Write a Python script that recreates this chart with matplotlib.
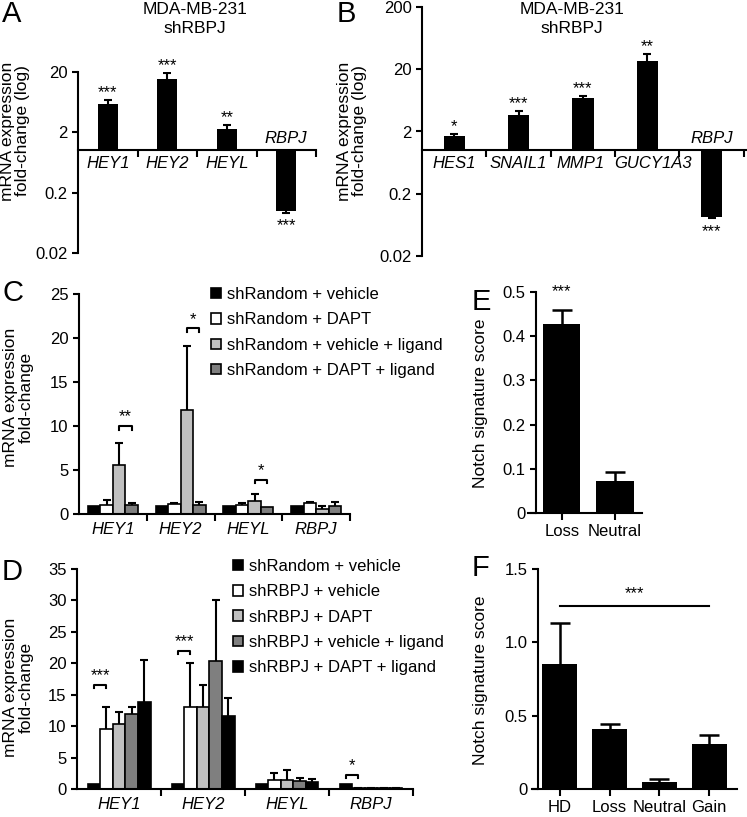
import numpy as np
import matplotlib
matplotlib.use('Agg')
import matplotlib.pyplot as plt
from matplotlib.patches import Patch

plt.rcParams['font.family'] = ['Liberation Sans', 'DejaVu Sans']
plt.rcParams['font.size'] = 12
plt.rcParams['axes.linewidth'] = 1.5
plt.rcParams['xtick.major.width'] = 1.5
plt.rcParams['ytick.major.width'] = 1.5
plt.rcParams['xtick.major.size'] = 4
plt.rcParams['ytick.major.size'] = 4

W, H = 747, 817

# ---- data ----
# A: MDA-MB-231 shRBPJ, log fold-change
a_genes = ['HEY1', 'HEY2', 'HEYL', 'RBPJ']
a_fold = [6.0, 15.5, 2.3, 0.098]
a_err = [0.8, 4.0, 0.3, 0.006]
a_stars = ['***', '***', '**', '***']

# B
b_genes = ['HES1', 'SNAIL1', 'MMP1', 'GUCY1A3', 'RBPJ']
b_fold = [1.68, 3.7, 7.0, 27.0, 0.086]
b_err = [0.15, 0.6, 0.5, 8.0, 0.005]
b_stars = ['*', '***', '***', '**', '***']

# C
c_genes = ['HEY1', 'HEY2', 'HEYL', 'RBPJ']
c_groups = ['shRandom + vehicle', 'shRandom + DAPT',
            'shRandom + vehicle + ligand', 'shRandom + DAPT + ligand']
c_colors = ['black', 'white', '#c0c0c0', '#7f7f7f']
c_vals = [[0.87, 0.87, 0.87, 0.87],
          [1.06, 1.10, 1.06, 1.25],
          [5.6, 11.8, 1.5, 0.57],
          [1.06, 1.0, 0.76, 0.95]]
c_err = [[0, 0, 0, 0],
         [0.55, 0.1, 0.15, 0.1],
         [2.5, 7.3, 0.8, 0.3],
         [0.15, 0.4, 0, 0.45]]
c_brackets = [(0, 2, 3, 10.0, '**'), (1, 2, 3, 21.1, '*'), (2, 2, 3, 3.9, '*')]

# D
d_genes = ['HEY1', 'HEY2', 'HEYL', 'RBPJ']
d_groups = ['shRandom + vehicle', 'shRBPJ + vehicle', 'shRBPJ + DAPT',
            'shRBPJ + vehicle + ligand', 'shRBPJ + DAPT + ligand']
d_colors = ['black', 'white', '#c0c0c0', '#7f7f7f', 'black']
d_vals = [[0.8, 0.8, 0.8, 0.8],
          [9.5, 13.1, 1.5, 0.15],
          [10.4, 13.1, 1.5, 0.15],
          [11.9, 20.3, 1.25, 0.08],
          [13.8, 11.6, 1.05, 0.15]]
d_err = [[0, 0, 0, 0],
         [3.6, 7.0, 1.0, 0.05],
         [1.9, 3.4, 1.6, 0.05],
         [1.1, 9.7, 0.5, 0.05],
         [6.8, 2.8, 0.5, 0.05]]
d_brackets = [(0, 0, 1, 16.6, '***'), (1, 0, 1, 22.0, '***'), (3, 0, 1, 2.3, '*')]

# E
e_cats = ['Loss', 'Neutral']
e_vals = [0.427, 0.072]
e_err = [0.033, 0.02]

# F
f_cats = ['HD', 'Loss', 'Neutral', 'Gain']
f_vals = [0.85, 0.41, 0.045, 0.31]
f_err = [0.28, 0.035, 0.02, 0.055]
f_line_y = 1.25


def rect(l, t, r, b):
    return [l / W, 1 - b / H, (r - l) / W, (b - t) / H]


def ftext(x, y, s, **kw):
    fig.text(x / W, 1 - y / H, s, **kw)


def err_up(ax, x, start, tips, cap, lw):
    # one-sided error bar: stem from bar end to tip, cap only at the tip
    ax.vlines(x, start, tips, color='black', lw=lw, zorder=1)
    ax.plot(x, tips, ls='none', marker='_', ms=cap, mew=lw, color='black', zorder=3)


fig = plt.figure(figsize=(W / 100, H / 100), dpi=100)


def log_panel(ax, genes, fold, err, stars, top, xmax, label_dx=None):
    x = np.arange(len(genes))
    fold = np.array(fold)
    err = np.array(err)
    up = fold >= 1
    if label_dx is None:
        label_dx = [0] * len(genes)
    ax.bar(x, fold - 1, 0.33, bottom=1, color='black', zorder=2)
    tips = np.where(up, fold + err, fold - err)
    err_up(ax, x, fold, tips, 5.5, 1.5)
    ax.set_yscale('log')
    ax.set_ylim(0.02, top)
    ax.set_xlim(-0.5, xmax)
    ticks = [t for t in [0.02, 0.2, 2, 20, 200] if t <= top]
    ax.set_yticks(ticks)
    ax.set_yticklabels([f'{t:g}' for t in ticks])
    ax.yaxis.set_minor_locator(matplotlib.ticker.NullLocator())
    ax.spines['top'].set_visible(False)
    ax.spines['right'].set_visible(False)
    ax.spines['bottom'].set_position(('data', 1))
    ax.set_xticks(np.arange(len(genes)) + 0.5)
    ax.set_xticklabels([])
    ax.tick_params(axis='x', length=5)
    for i, g in enumerate(genes):
        if up[i]:
            ax.annotate(g, (i, 1), xytext=(label_dx[i], -4), textcoords='offset points',
                        ha='center', va='top', style='italic')
            ax.annotate(stars[i], (i, tips[i]), xytext=(0, 0),
                        textcoords='offset points', ha='center', va='bottom')
        else:
            ax.annotate(g, (i, 1), xytext=(label_dx[i], 3), textcoords='offset points',
                        ha='center', va='bottom', style='italic')
            ax.annotate(stars[i], (i, tips[i]), xytext=(0, -4),
                        textcoords='offset points', ha='center', va='top')


axA = fig.add_axes(rect(78, 72, 316, 253))
log_panel(axA, a_genes, a_fold, a_err, a_stars, 20, 3.5)
axB = fig.add_axes(rect(422, 7, 747, 256))
log_panel(axB, b_genes, b_fold, b_err, b_stars, 200, 4.55, label_dx=[0, 0, -2, 4, 0])


def group_panel(ax, genes, groups, colors, vals, err, width, brackets, ymax, step, tick_d):
    x = np.arange(len(genes))
    n = len(groups)
    offs = (np.arange(n) - (n - 1) / 2) * width
    for k in range(n):
        v = np.array(vals[k])
        e = np.array(err[k])
        ax.bar(x + offs[k], v, width, color=colors[k], edgecolor='black',
               linewidth=1.2, zorder=2)
        m = e > 0
        err_up(ax, (x + offs[k])[m], v[m], (v + e)[m], 5.5, 1.5)
    for g, i, j, y, s in brackets:
        x1, x2 = g + offs[i], g + offs[j]
        ax.plot([x1, x1, x2, x2], [y - tick_d, y, y, y - tick_d], color='black', lw=1.5)
        ax.annotate(s, ((x1 + x2) / 2, y), xytext=(0, 1), textcoords='offset points',
                    ha='center', va='bottom')
    ax.set_xlim(-0.5, len(genes) - 0.5)
    ax.set_ylim(0, ymax)
    ax.set_yticks(np.arange(0, ymax + 0.1, step))
    ax.set_xticks(x + 0.5)
    ax.set_xticklabels([])
    ax.tick_params(axis='x', length=5)
    for i, g in enumerate(genes):
        ax.annotate(g, (i, 0), xytext=(0, -6), textcoords='offset points',
                    ha='center', va='top', style='italic')
    ax.spines['top'].set_visible(False)
    ax.spines['right'].set_visible(False)


axC = fig.add_axes(rect(79, 294, 350, 514))
group_panel(axC, c_genes, c_groups, c_colors, c_vals, c_err, 0.185, c_brackets, 25, 5, 0.4)
axD = fig.add_axes(rect(77, 569, 413, 789))
group_panel(axD, d_genes, d_groups, d_colors, d_vals, d_err, 0.15, d_brackets, 35, 5, 0.6)

for names, colors, (lx, ly) in [(c_groups, c_colors, (211, 287)), (d_groups, d_colors, (233, 559))]:
    handles = [Patch(facecolor=c, edgecolor='black', linewidth=1.2) for c in colors]
    fig.legend(handles, names, loc='upper left', bbox_to_anchor=(lx / W, 1 - ly / H),
               frameon=False, borderpad=0, borderaxespad=0, handlelength=0.6,
               handleheight=0.6, handletextpad=0.35, labelspacing=0.62, fontsize=12)


def score_panel(ax, cats, vals, err, ymax, ticks, labels, xl, spine_x, xr):
    x = np.arange(len(cats))
    v = np.array(vals)
    ax.bar(x, v, 0.7, color='black', zorder=2)
    err_up(ax, x, v, v + np.array(err), 15, 1.8)
    ax.set_xlim(xl, xr)
    ax.set_ylim(0, ymax)
    ax.set_yticks(ticks)
    ax.set_yticklabels(labels)
    ax.set_xticks(x)
    ax.set_xticklabels(cats)
    ax.tick_params(axis='x', length=5, pad=3)
    ax.spines['left'].set_position(('data', spine_x))
    ax.spines['top'].set_visible(False)
    ax.spines['right'].set_visible(False)


axE = fig.add_axes(rect(528, 292, 642, 513))
score_panel(axE, e_cats, e_vals, e_err, 0.5, [0, 0.1, 0.2, 0.3, 0.4, 0.5],
            ['0', '0.1', '0.2', '0.3', '0.4', '0.5'], -0.64, -0.49, 1.51)
axE.text(0, 0.5, '***', ha='center', va='center', clip_on=False)

axF = fig.add_axes(rect(532, 569, 737, 789))
score_panel(axF, f_cats, f_vals, f_err, 1.5, [0, 0.5, 1.0, 1.5],
            ['0', '0.5', '1.0', '1.5'], -0.56, -0.44, 3.56)
axF.plot([0, len(f_cats) - 1], [f_line_y, f_line_y], color='black', lw=1.5)
axF.annotate('***', ((len(f_cats) - 1) / 2, f_line_y), xytext=(0, 3),
             textcoords='offset points', ha='center', va='bottom')

# figure labels
for s, x, y in [('A', 2, 0), ('B', 337, 0), ('C', 2, 279), ('D', 2, 558),
                ('E', 472, 288), ('F', 472, 554)]:
    ftext(x, y, s, fontsize=21, va='top', ha='left')

for x in (195, 572):
    ftext(x, 19, 'MDA-MB-231\nshRBPJ', ha='center', va='center', linespacing=1.3,
          fontsize=12.5)

ftext(15, 131, 'mRNA expression\nfold-change (log)', rotation=90, ha='center',
      va='center', fontsize=12.5, linespacing=1.05)
ftext(352, 131, 'mRNA expression\nfold-change (log)', rotation=90, ha='center',
      va='center', fontsize=12.5, linespacing=1.05)
ftext(18, 397, 'mRNA expression\nfold-change', rotation=90, ha='center',
      va='center', fontsize=12.5, linespacing=1.05)
ftext(18, 687, 'mRNA expression\nfold-change', rotation=90, ha='center',
      va='center', fontsize=12.5, linespacing=1.05)
ftext(481, 403, 'Notch signature score', rotation=90, ha='center', va='center', fontsize=12.5)
ftext(481, 680, 'Notch signature score', rotation=90, ha='center', va='center', fontsize=12.5)

fig.savefig('out.png', dpi=100)
